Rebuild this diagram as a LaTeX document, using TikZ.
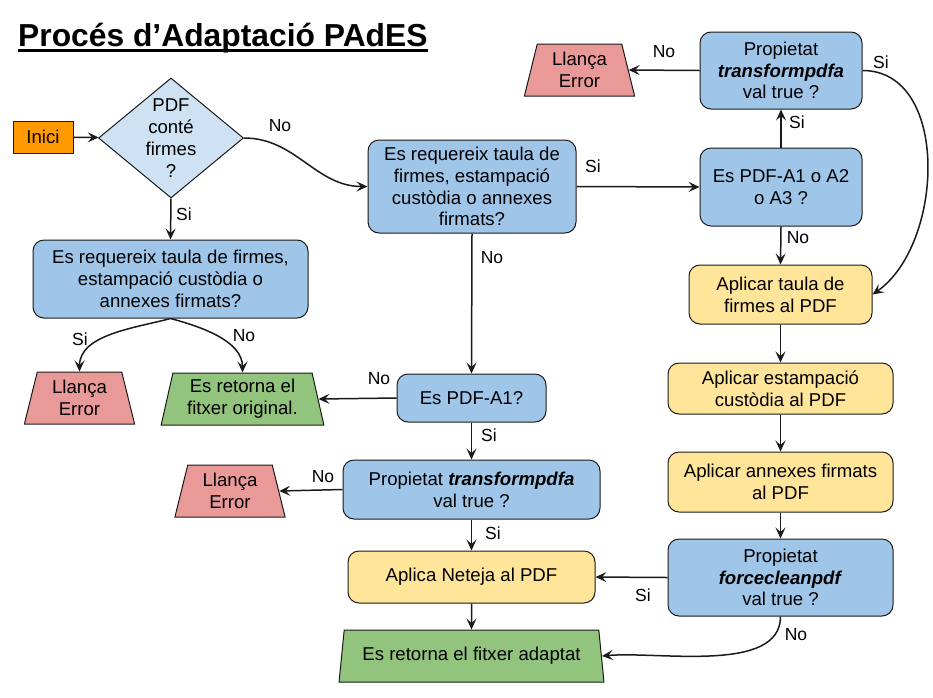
\documentclass[tikz,border=0pt]{standalone}
\usepackage{fontspec}
\setmainfont{Liberation Sans}
\usetikzlibrary{shapes.geometric,arrows.meta}
\definecolor{padOrange}{HTML}{FF9900}
\definecolor{padQLight}{HTML}{CFE2F3}
\definecolor{padBlue}{HTML}{9FC5E8}
\definecolor{padRed}{HTML}{EA9999}
\definecolor{padGreen}{HTML}{93C47D}
\definecolor{padYellow}{HTML}{FFE599}
\definecolor{padLine}{HTML}{1A1A1A}

\begin{document}
\begin{tikzpicture}[x=1pt, y=1pt,
  font=\fontsize{18.6}{21.8}\selectfont,
  box/.style={draw=padLine, line width=1pt, rounded corners=11pt,
    align=center, inner sep=2pt},
  qbox/.style={box, fill=padBlue},
  actbox/.style={box, fill=padYellow},
  endbox/.style={draw=padLine, line width=1pt, trapezium,
    trapezium left angle=77, trapezium right angle=77,
    trapezium stretches=true, align=center, inner sep=1pt},
  errbox/.style={endbox, fill=padRed, minimum width=111pt, minimum height=52pt},
  okbox/.style={endbox, fill=padGreen, minimum height=52pt},
  lbl/.style={inner sep=1pt, font=\fontsize{17.5}{20}\selectfont},
  flow/.style={-{Stealth[length=11pt,width=10pt,inset=4.5pt]},
    line width=1.5pt, padLine},
]
\useasboundingbox (0,0) rectangle (933,-697);

% --- TITLE ---
\node[inner sep=0pt, anchor=base west, font=\fontsize{31.8}{36}\selectfont\bfseries]
  (title) at (18,-46.5) {Procés d’Adaptació PAdES};
\draw[line width=3pt]
  ([yshift=-4pt]title.base west) -- ([yshift=-4pt]title.base east);

% --- LEFT BRANCH ---
\node[draw=padLine, line width=1pt, fill=padOrange, minimum width=60pt,
  minimum height=32pt, inner sep=1pt] (inici) at (43,-137) {Inici};
\node[diamond, draw=padLine, line width=1pt, fill=padQLight,
  minimum width=145pt, minimum height=120pt, inner sep=0pt] (q1) at (171,-138) {};
\node[align=center, inner sep=0pt] (q1txt) at (q1) {PDF\\conté\\firmes\\?};
\node[qbox, minimum width=275pt, minimum height=78pt] (reqA) at (170.5,-279)
  {Es requereix taula de firmes,\\estampació custòdia o\\annexes firmats?};
\node[errbox] (err1) at (79.5,-398) {Llança\\Error};
\node[okbox, minimum width=163pt] (orig) at (242.5,-399)
  {Es retorna el\\fitxer original.};

% --- MIDDLE BRANCH ---
\node[qbox, minimum width=208pt, minimum height=93pt] (reqB) at (472,-186.5)
  {Es requereix taula de\\firmes, estampació\\custòdia o annexes\\firmats?};
\node[qbox, minimum width=149pt, minimum height=48pt] (pdfa1) at (471.5,-398)
  {Es PDF-A1?};
\node[qbox, minimum width=257pt, minimum height=59pt] (tpmid) at (471.5,-489.5)
  {Propietat \textbf{\textit{transformpdfa}}\\val true ?};
\node[errbox] (err2) at (230,-491) {Llança\\Error};
\node[actbox, minimum width=247pt, minimum height=52pt] (neteja) at (471.5,-577)
  {Aplica Neteja al PDF};
\node[okbox, minimum width=265pt] (adapt) at (471.5,-656)
  {Es retorna el fitxer adaptat};

% --- RIGHT BRANCH ---
\node[qbox, minimum width=162pt, minimum height=77pt] (tptop) at (781,-70.5)
  {Propietat\\\textbf{\textit{transformpdfa}}\\val true ?};
\node[errbox] (err3) at (579.5,-70) {Llança\\Error};
\node[qbox, minimum width=162pt, minimum height=78pt] (pdfa123) at (781,-187)
  {Es PDF-A1 o A2\\o A3 ?};
\node[actbox, minimum width=183pt, minimum height=59pt] (taula) at (780.5,-294.5)
  {Aplicar taula de\\firmes al PDF};
\node[actbox, minimum width=225pt, minimum height=51pt] (estamp) at (780.5,-388.5)
  {Aplicar estampació\\custòdia al PDF};
\node[actbox, minimum width=225pt, minimum height=60pt] (annex) at (780.5,-482)
  {Aplicar annexes firmats\\al PDF};
\node[qbox, minimum width=225pt, minimum height=77pt] (force) at (780.5,-577.5)
  {Propietat\\\textbf{\textit{forcecleanpdf}}\\val true ?};

% --- CONNECTORS ---
\draw[flow] (inici) -- (q1);
\draw[flow] (q1.east) to[out=0, in=180] (reqB.west);
\draw[flow] (q1.south) -- (reqA.north);
\draw[flow] (reqA.south) to[out=195, in=90, looseness=0.9] (err1.north);
\draw[flow] (reqA.south) to[out=-15, in=90, looseness=0.9] (orig.north);
\draw[flow] (reqB.east) -- (pdfa123.west);
\draw[flow] (reqB.south) -- (pdfa1.north);
\draw[flow] (pdfa1.west) -- (orig.east);
\draw[flow] (pdfa1.south) -- (tpmid.north);
\draw[flow] (tpmid.west) -- (err2.east);
\draw[flow] (tpmid.south) -- (neteja.north);
\draw[flow] (neteja.south) -- (adapt.north);
\draw[flow] (pdfa123.north) -- (tptop.south);
\draw[flow] (pdfa123.south) -- (taula.north);
\draw[flow] (tptop.west) -- (err3.east);
\draw[flow] (tptop.east) to[out=0, in=35] (taula.east);
\draw[flow] (taula.south) -- (estamp.north);
\draw[flow] (estamp.south) -- (annex.north);
\draw[flow] (annex.south) -- (force.north);
\draw[flow] (force.west) -- (neteja.east);
\draw[flow] (force.south) to[out=-90, in=5, looseness=0.8] (adapt.east);

% --- EDGE LABELS ---
\node[lbl] (lq1no) at (280,-126) {No};
\node[lbl] (lq1si) at (184,-214) {Si};
\node[lbl] (lasi) at (80,-339) {Si};
\node[lbl] (lano) at (244,-336) {No};
\node[lbl] (lbsi) at (593,-166) {Si};
\node[lbl] (lbno) at (492,-258) {No};
\node[lbl] (la1no) at (379,-379) {No};
\node[lbl] (la1si) at (489,-435) {Si};
\node[lbl] (ltmno) at (323,-477) {No};
\node[lbl] (ltmsi) at (493,-533) {Si};
\node[lbl] (la3si) at (797,-122) {Si};
\node[lbl] (la3no) at (798,-238) {No};
\node[lbl] (lttno) at (664,-52) {No};
\node[lbl] (lttsi) at (881,-62) {Si};
\node[lbl] (lfsi) at (643,-595) {Si};
\node[lbl] (lfno) at (796,-635) {No};

\end{tikzpicture}
\end{document}
